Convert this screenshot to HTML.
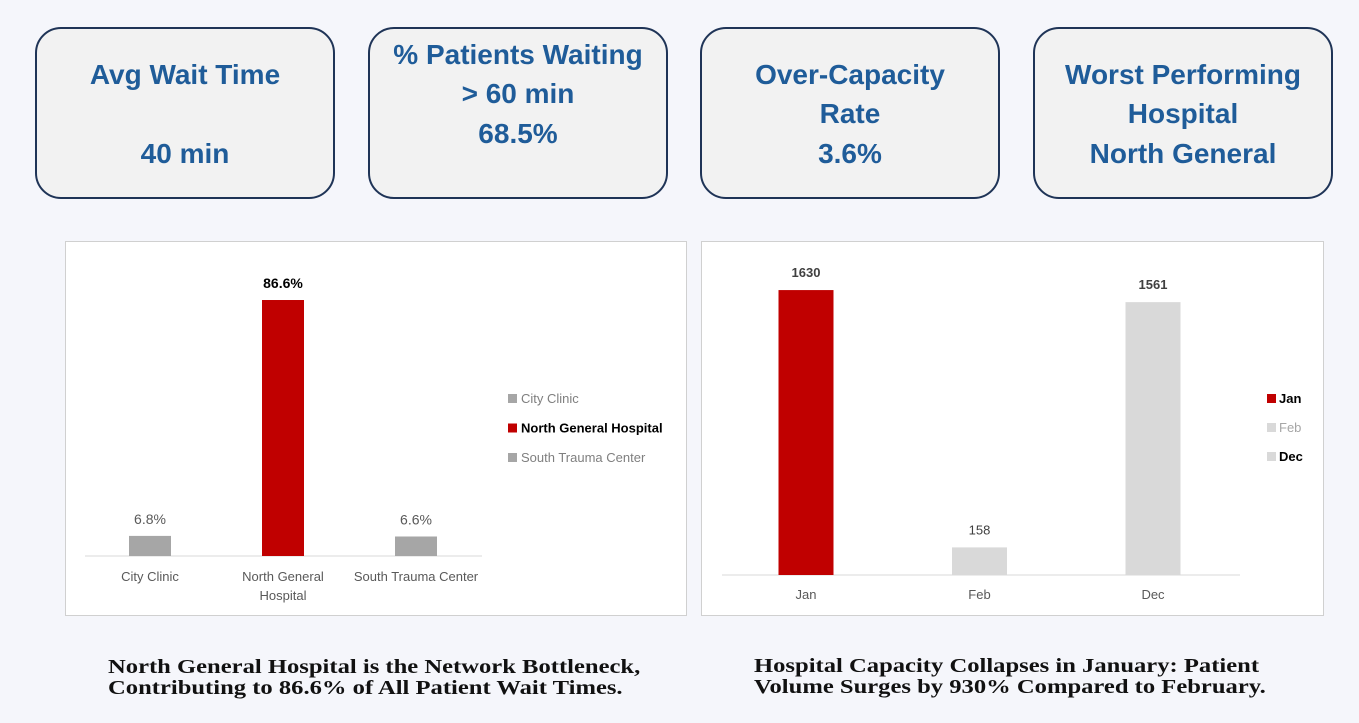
<!DOCTYPE html>
<html><head><meta charset="utf-8"><style>
body{margin:0;width:1359px;height:723px;background:#f5f6fb;position:relative;overflow:hidden;font-family:"Liberation Sans",sans-serif}
.card{position:absolute;top:27px;width:296px;height:168px;background:#f2f2f2;border:2px solid #1f3457;border-radius:26px;box-sizing:content-box}
.ln{position:absolute;left:0;right:0;text-align:center;color:#1f5c99;font-weight:bold;font-size:28px;line-height:40px;transform:translateY(-20px)}
.panel{position:absolute;top:241px;height:373px;background:#fff;border:1px solid #d0d0d0}
.cap{position:absolute;font-family:"Liberation Serif",serif;font-weight:bold;font-size:20px;line-height:21px;color:#111;transform:scaleX(1.23);transform-origin:left top;white-space:nowrap}
</style></head><body>
<div class="card" style="left:35px">
<div class="ln" style="top:46px">Avg Wait Time</div><div class="ln" style="top:125px">40 min</div></div>
<div class="card" style="left:368px">
<div class="ln" style="top:26px">% Patients Waiting</div><div class="ln" style="top:65px">&gt; 60 min</div><div class="ln" style="top:105px">68.5%</div></div>
<div class="card" style="left:700px">
<div class="ln" style="top:46px">Over-Capacity</div><div class="ln" style="top:85px">Rate</div><div class="ln" style="top:125px">3.6%</div></div>
<div class="card" style="left:1033px">
<div class="ln" style="top:46px">Worst Performing</div><div class="ln" style="top:85px">Hospital</div><div class="ln" style="top:125px">North General</div></div>

<div class="panel" style="left:65px;width:620px"></div>
<div class="panel" style="left:701px;width:621px"></div>
<svg id="svg" width="1359" height="723" style="position:absolute;left:0;top:0" font-family="Liberation Sans, sans-serif"></svg>

<div class="cap" style="left:108px;top:657px">North General Hospital is the Network Bottleneck,<br>Contributing to 86.6% of All Patient Wait Times.</div>
<div class="cap" style="left:754px;top:656px">Hospital Capacity Collapses in January: Patient<br>Volume Surges by 930% Compared to February.</div>

<script>
const hospitals=["City Clinic","North General Hospital","South Trauma Center"];
const hospitalLabels=[["City Clinic"],["North General","Hospital"],["South Trauma Center"]];
const waitShare=[6.8,86.6,6.6];
const months=["Jan","Feb","Dec"];
const volumes=[1630,158,1561];
const hColors=["#a6a6a6","#c00000","#a6a6a6"];
const mColors=["#c00000","#d9d9d9","#d9d9d9"];
const svg=document.getElementById('svg');
const NS="http://www.w3.org/2000/svg";
function mk(t,a,txt){const e=document.createElementNS(NS,t);for(const k in a)e.setAttribute(k,a[k]);if(txt!=null)e.textContent=txt;svg.appendChild(e);return e;}
// chart 1
const b1=556,x1=i=>150+i*133,y1=v=>b1-v*2.956;
let e=mk('line',{x1:85,x2:482,y1:b1,y2:b1,stroke:'#d9d9d9','stroke-width':1});

waitShare.forEach((v,i)=>{
 let r=mk('rect',{x:x1(i)-21,y:y1(v),width:42,height:b1-y1(v),fill:hColors[i]});
 
 
 let t=mk('text',{x:x1(i),y:y1(v)-12,'text-anchor':'middle','font-size':14,fill:i==1?'#000':'#595959','font-weight':i==1?'bold':'normal'},v.toFixed(1)+'%');
 
 hospitalLabels[i].forEach((s,j)=>{let l=mk('text',{x:x1(i),y:581+j*19,'text-anchor':'middle','font-size':13,fill:'#595959'},s);
 });
 let sq=mk('rect',{x:508,y:394+i*29.5,width:9,height:9,fill:hColors[i]});
 
 let lt=mk('text',{x:521,y:403+i*29.5,'font-size':13,fill:i==1?'#000':'#7f7f7f','font-weight':i==1?'bold':'normal'},hospitals[i]);
 
});
// chart 2
const b2=575,x2=i=>806+i*173.5,y2=v=>b2-v*0.1748;
e=mk('line',{x1:722,x2:1240,y1:b2,y2:b2,stroke:'#d9d9d9','stroke-width':1});

volumes.forEach((v,i)=>{
 let r=mk('rect',{x:x2(i)-27.5,y:y2(v),width:55,height:b2-y2(v),fill:mColors[i]});
 
 
 let t=mk('text',{x:x2(i),y:y2(v)-13,'text-anchor':'middle','font-size':13,fill:'#404040','font-weight':i==1?'normal':'bold'},String(v));
 
 let l=mk('text',{x:x2(i),y:599,'text-anchor':'middle','font-size':13,fill:'#595959'},months[i]);
 
 let sq=mk('rect',{x:1267,y:394+i*29,width:9,height:9,fill:mColors[i]});
 
 let lt=mk('text',{x:1279,y:403+i*29,'font-size':13,fill:i==1?'#a6a6a6':'#000','font-weight':i==1?'normal':'bold'},months[i]);
 
});
</script>
</body></html>
